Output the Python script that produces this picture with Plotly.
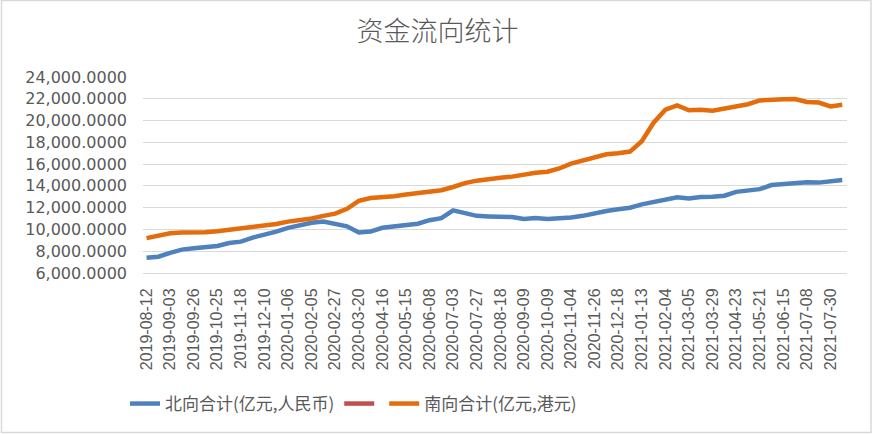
import plotly.graph_objects as go

# Sample dates (category axis, roughly every 8 trading days)
dates = [
    "2019-08-12", "2019-08-22", "2019-09-03", "2019-09-16", "2019-09-26", "2019-10-14",
    "2019-10-25", "2019-11-06", "2019-11-18", "2019-11-28", "2019-12-10", "2019-12-20",
    "2020-01-06", "2020-01-16", "2020-02-05", "2020-02-17", "2020-02-27", "2020-03-10",
    "2020-03-20", "2020-04-01", "2020-04-16", "2020-04-28", "2020-05-15", "2020-05-27",
    "2020-06-08", "2020-06-18", "2020-07-03", "2020-07-15", "2020-07-27", "2020-08-06",
    "2020-08-18", "2020-08-28", "2020-09-09", "2020-09-21", "2020-10-09", "2020-10-21",
    "2020-11-04", "2020-11-16", "2020-11-26", "2020-12-08", "2020-12-18", "2020-12-30",
    "2021-01-13", "2021-01-25", "2021-02-04", "2021-02-22", "2021-03-05", "2021-03-17",
    "2021-03-29", "2021-04-12", "2021-04-23", "2021-05-10", "2021-05-21", "2021-06-02",
    "2021-06-15", "2021-06-25", "2021-07-08", "2021-07-20", "2021-07-30", "2021-08-11",
]

tick_labels = [
    "2019-08-12", "2019-09-03", "2019-09-26", "2019-10-25", "2019-11-18", "2019-12-10",
    "2020-01-06", "2020-02-05", "2020-02-27", "2020-03-20", "2020-04-16", "2020-05-15",
    "2020-06-08", "2020-07-03", "2020-07-27", "2020-08-18", "2020-09-09", "2020-10-09",
    "2020-11-04", "2020-11-26", "2020-12-18", "2021-01-13", "2021-02-04", "2021-03-05",
    "2021-03-29", "2021-04-23", "2021-05-21", "2021-06-15", "2021-07-08", "2021-07-30",
]

north_total = [
    7400, 7500, 7850, 8150, 8280, 8350, 8480, 8760, 8880, 9250,
    9500, 9800, 10150, 10400, 10620, 10720, 10550, 10290, 9730, 9800,
    10150, 10280, 10380, 10530, 10850, 11030, 11750, 11450, 11250, 11200,
    11150, 11140, 10960, 11050, 10950, 11000, 11100, 11250, 11500, 11700,
    11850, 12000, 12300, 12500, 12750, 12950, 12850, 12980, 13000, 13100,
    13450, 13600, 13700, 14080, 14150, 14300, 14330, 14300, 14400, 14550,
]

south_total = [
    9200, 9400, 9650, 9720, 9710, 9750, 9830, 9950, 10080, 10200,
    10320, 10500, 10720, 10850, 11000, 11250, 11450, 11900, 12620, 12880,
    12950, 13050, 13200, 13330, 13450, 13600, 13900, 14250, 14480, 14640,
    14750, 14850, 15060, 15200, 15300, 15600, 16050, 16300, 16600, 16900,
    17000, 17150, 18100, 19800, 21000, 21400, 20950, 21000, 20900, 21100,
    21400, 21500, 21850, 21950, 21950, 21980, 21700, 21650, 21300, 21450,
]

empty_series = [None] * len(dates)

fig = go.Figure()
fig.add_trace(go.Scatter(x=dates, y=north_total, mode="lines",
                         name="北向合计(亿元,人民币)",
                         line=dict(color="#4F81BD", width=4.5)))
fig.add_trace(go.Scatter(x=dates, y=empty_series, mode="lines", name="",
                         line=dict(color="#C0504D", width=4.5)))
fig.add_trace(go.Scatter(x=dates, y=south_total, mode="lines",
                         name="南向合计(亿元,港元)",
                         line=dict(color="#E46C0A", width=4.5)))

W, H = 875, 434
ml, mr, mt, mb = 143, 28, 77, 161
pw, ph = W - ml - mr, H - mt - mb

def px_x(p):
    return (p - ml) / pw

def px_y(p):
    return (H - mb - p) / ph

fig.update_layout(
    width=W, height=H,
    margin=dict(l=ml, r=mr, t=mt, b=mb),
    paper_bgcolor="white", plot_bgcolor="white",
    title=dict(text="资金流向统计", x=0.5, xref="container", xanchor="center",
               y=1 - 32 / H, yref="container", yanchor="middle",
               font=dict(family="Noto Sans CJK SC", size=27, color="#595959", weight=300)),
    font=dict(family="Liberation Sans", color="#595959"),
    showlegend=True,
    legend=dict(orientation="h", x=px_x(125), xanchor="left", y=px_y(404), yanchor="middle",
                font=dict(family="Noto Sans CJK SC", size=17, color="#595959"),
                itemwidth=30, tracegroupgap=0, bgcolor="rgba(0,0,0,0)"),
    xaxis=dict(type="category", tickmode="array", tickvals=tick_labels, ticktext=tick_labels,
               tickangle=-90, tickfont=dict(family="Liberation Sans", size=16, color="#595959"),
               showgrid=False, showline=True, linecolor="#D9D9D9", linewidth=1,
               ticks="", ticklabelstandoff=8, range=[-0.3, len(dates) - 0.6]),
    yaxis=dict(range=[6000, 24000], dtick=2000, tickformat=",.4f",
               tickfont=dict(family="DejaVu Sans", size=16, color="#595959"),
               showgrid=True, gridcolor="#D9D9D9", gridwidth=1, zeroline=False,
               showline=False, ticks="", ticklabelstandoff=15),
    shapes=[dict(type="rect", xref="paper", yref="paper",
                 x0=px_x(1.5), x1=px_x(871), y0=px_y(432.5), y1=px_y(0.5),
                 line=dict(color="#D9D9D9", width=1.5), fillcolor="rgba(0,0,0,0)", layer="below")],
)

fig.write_html("out.html", config={"displayModeBar": False},
               post_script="document.body.style.margin='0';document.body.style.overflow='hidden';")
